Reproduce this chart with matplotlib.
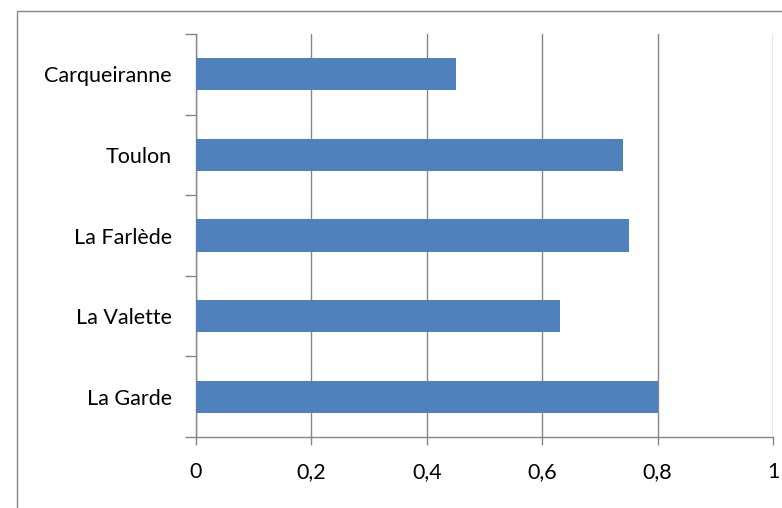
import numpy as np
import matplotlib
matplotlib.use("Agg")
import matplotlib.pyplot as plt
from matplotlib.patches import Rectangle

# data, bottom to top
towns = ["La Garde", "La Valette", "La Farlède", "Toulon", "Carqueiranne"]
values = [0.80, 0.63, 0.75, 0.74, 0.45]
x_ticks = [0, 0.2, 0.4, 0.6, 0.8, 1.0]
x_labels = ["0", "0,2", "0,4", "0,6", "0,8", "1"]

bar_color = "#4F81BD"
line_color = "#868686"

plt.rcParams["font.family"] = ["Lato", "DejaVu Sans"]

fig = plt.figure(figsize=(7.82, 5.08), dpi=100)
ax = fig.add_axes([196 / 782, 1 - 437 / 508, (773 - 196) / 782, (437 - 34) / 508])

pos = np.arange(len(towns))
ax.barh(pos, values, height=0.4, color=bar_color, zorder=3)

ax.set_xlim(0, 1)
ax.set_ylim(-0.5, len(towns) - 0.5)

# x axis
ax.set_xticks(x_ticks)
ax.set_xticklabels(x_labels)
ax.grid(axis="x", color=line_color, linewidth=1.0, zorder=0)
ax.tick_params(axis="x", length=6, width=1.0, color=line_color, pad=12,
               labelsize=15.5, labelcolor="black")

# y axis: ticks at category boundaries, labels at centres
ax.set_yticks(np.arange(-0.5, len(towns), 1.0))
ax.set_yticklabels([])
ax.set_yticks(pos, minor=True)
ax.set_yticklabels(towns, minor=True)
ax.tick_params(axis="y", which="major", length=8, width=1.0, color=line_color)
ax.tick_params(axis="y", which="minor", length=0, pad=17.5, labelsize=15.5,
               labelcolor="black")

for side in ["top", "right"]:
    ax.spines[side].set_visible(False)
for side in ["left", "bottom"]:
    ax.spines[side].set_color(line_color)
    ax.spines[side].set_linewidth(1.0)

# chart area border (runs off the right and bottom edges)
fig.patches.append(Rectangle((17 / 782, -0.1), 1.2, 1.1 - 11 / 508,
                             transform=fig.transFigure, fill=False,
                             edgecolor=line_color, linewidth=1.0))

fig.savefig("out.png", dpi=100)
